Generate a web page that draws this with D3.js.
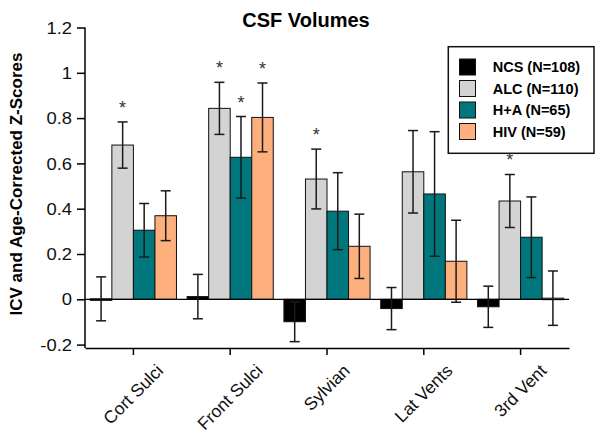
<!DOCTYPE html>
<html>
<head>
<meta charset="utf-8">
<script src="https://cdn.jsdelivr.net/npm/d3@7/dist/d3.min.js"></script>
<style>
  body { margin: 0; background: #fff; }
  svg { display: block; font-family: "Liberation Sans", Arial, sans-serif; }
</style>
</head>
<body>
<svg id="chart" width="601" height="435"></svg>
<script>
// regions along the x axis
var regions = ["Cort Sulci", "Front Sulci", "Sylvian", "Lat Vents", "3rd Vent"];
var groups = ["NCS", "ALC", "H+A", "HIV"];
var legendLabels = ["NCS (N=108)", "ALC (N=110)", "H+A (N=65)", "HIV (N=59)"];
var groupColors = ["#000000", "#d3d3d3", "#00777d", "#fdb07e"];

// mean z-scores, one array per group, in region order
var ncsMeans = [0.002, 0.012, -0.099, -0.041, -0.033];
var alcMeans = [0.681, 0.843, 0.531, 0.563, 0.434];
var haMeans  = [0.305, 0.627, 0.389, 0.465, 0.274];
var hivMeans = [0.369, 0.803, 0.234, 0.168, 0.005];

// standard errors
var ncsErr = [0.097, 0.098, 0.088, 0.093, 0.091];
var alcErr = [0.102, 0.115, 0.132, 0.182, 0.117];
var haErr  = [0.118, 0.180, 0.170, 0.275, 0.178];
var hivErr = [0.110, 0.152, 0.142, 0.181, 0.120];

// significance stars (1 = starred)
var ncsStar = [0, 0, 0, 0, 0];
var alcStar = [1, 1, 1, 0, 1];
var haStar  = [0, 1, 0, 0, 0];
var hivStar = [0, 1, 0, 0, 0];

var yTicks = [-0.2, 0, 0.2, 0.4, 0.6, 0.8, 1, 1.2];

var means = [ncsMeans, alcMeans, haMeans, hivMeans];
var errs = [ncsErr, alcErr, haErr, hivErr];
var stars = [ncsStar, alcStar, haStar, hivStar];

var rows = [];
regions.forEach(function(r, i){
	groups.forEach(function(g, j){
		rows.push({region: r, group: g, color: groupColors[j],
			mean: means[j][i], err: errs[j][i], star: stars[j][i]});
	});
});

var svg = d3.select("#chart");
// plot area edges (avoid "top", it is window.top)
var plotL = 85, plotR = 569, plotT = 27.5, plotB = 348;

var x0 = d3.scaleBand().domain(regions).range([plotL, plotR])
	.paddingInner(0.11).paddingOuter(0.055);
var x1 = d3.scaleBand().domain(groups).range([0, x0.bandwidth()]);
var y = d3.scaleLinear().domain([-0.215, 1.2]).range([plotB, plotT]);

// title
svg.append("text")
	.attr("x", 306).attr("y", 26.5)
	.attr("text-anchor", "middle")
	.style("font-size", "20px").style("font-weight", "bold")
	.text("CSF Volumes");

// y axis label
svg.append("text")
	.attr("transform", "translate(22," + 184 + ") rotate(-90)")
	.attr("text-anchor", "middle")
	.style("font-size", "17px").style("font-weight", "bold")
	.text("ICV and Age-Corrected Z-Scores");

// bars
var bars = svg.append("g");
bars.selectAll("rect").data(rows).enter().append("rect")
	.attr("x", function(d){ return x0(d.region) + x1(d.group); })
	.attr("width", x1.bandwidth())
	.attr("y", function(d){ return y(Math.max(0, d.mean)); })
	.attr("height", function(d){ return Math.max(Math.abs(y(d.mean) - y(0)), 1.5); })
	.attr("fill", function(d){ return d.color; })
	.attr("stroke", "#111")
	.attr("stroke-width", 1);

// zero line
svg.append("line")
	.attr("x1", plotL).attr("x2", plotR)
	.attr("y1", y(0)).attr("y2", y(0))
	.attr("stroke", "#000").attr("stroke-width", 1.2);

// error bars
var eb = svg.append("g").attr("stroke", "#1a1a1a").attr("stroke-width", 1.5);
rows.forEach(function(d){
	var cx = x0(d.region) + x1(d.group) + x1.bandwidth() / 2;
	var y1 = y(d.mean + d.err), y2 = y(d.mean - d.err);
	eb.append("line").attr("x1", cx).attr("x2", cx).attr("y1", y1).attr("y2", y2);
	eb.append("line").attr("x1", cx - 5).attr("x2", cx + 5).attr("y1", y1).attr("y2", y1);
	eb.append("line").attr("x1", cx - 5).attr("x2", cx + 5).attr("y1", y2).attr("y2", y2);
});

// asterisks
svg.selectAll(".star").data(rows.filter(function(d){ return d.star; })).enter().append("text")
	.attr("class", "star")
	.attr("x", function(d){ return x0(d.region) + x1(d.group) + x1.bandwidth() / 2; })
	.attr("y", function(d){ return y(d.mean + d.err) - 8; })
	.attr("text-anchor", "middle")
	.attr("fill", "#333")
	.style("font-size", "18px")
	.text("*");

// y axis
var yAxis = svg.append("g")
	.attr("transform", "translate(" + plotL + ",0)")
	.call(d3.axisLeft(y).tickValues(yTicks).tickSize(8).tickSizeOuter(0)
		.tickFormat(function(d){ return String(+d.toFixed(1)); }));
yAxis.select(".domain").attr("stroke-width", 1.5)
	.attr("d", "M0," + y(1.2) + "V" + plotB);
yAxis.selectAll(".tick line").attr("stroke-width", 1.5);
yAxis.selectAll(".tick text")
	.style("font-size", "16px").attr("fill", "#111")
	.attr("transform", "scale(1.15,1)")
	.attr("x", -13 / 1.15).attr("dy", "0.35em");

// x axis
var xAxis = svg.append("g")
	.attr("transform", "translate(0," + plotB + ")")
	.call(d3.axisBottom(x0).tickSize(7).tickSizeOuter(0));
xAxis.select(".domain").attr("stroke-width", 1.5);
xAxis.selectAll(".tick line").attr("stroke-width", 1.5);
xAxis.selectAll(".tick text").remove();

// rotated region labels: centred on the tick, tops lined up
regions.forEach(function(r){
	var t = svg.append("text")
		.attr("text-anchor", "middle")
		.style("font-size", "17.5px").attr("fill", "#111")
		.text(r);
	var len = t.node().getComputedTextLength();
	var tx = x0(r) + x0.bandwidth() / 2 + 4;
	var ty = 363 + len * 0.3536 + 8.8;
	t.attr("transform", "translate(" + tx + "," + ty + ") rotate(-45)");
});

// legend
var lg = svg.append("g");
lg.append("rect")
	.attr("x", 448.3).attr("y", 46.7).attr("width", 145.7).attr("height", 106.6)
	.attr("fill", "#fff").attr("stroke", "#111").attr("stroke-width", 1.5);
legendLabels.forEach(function(l, i){
	var cy = 67 + i * 21.5;
	lg.append("rect")
		.attr("x", 459.5).attr("y", cy - 8).attr("width", 16).attr("height", 16)
		.attr("fill", groupColors[i]).attr("stroke", "#111").attr("stroke-width", 1);
	lg.append("text")
		.attr("x", 492.7).attr("y", cy + 5)
		.style("font-size", "14.5px").style("font-weight", "bold")
		.text(l);
});
</script>
</body>
</html>
